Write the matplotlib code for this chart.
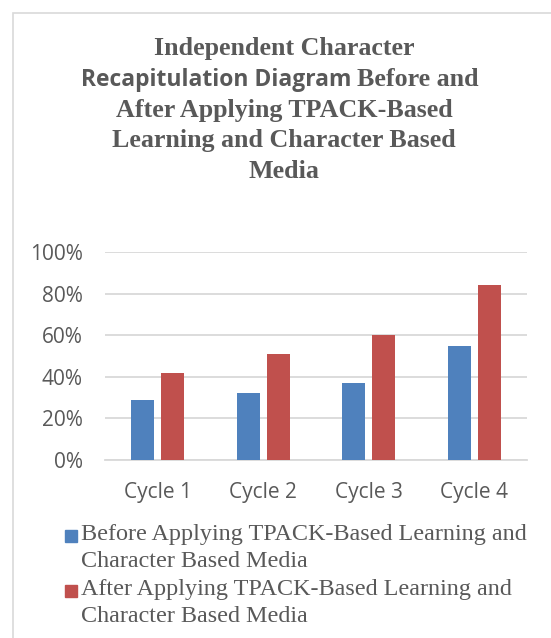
import matplotlib
matplotlib.use("Agg")
import matplotlib.pyplot as plt
import numpy as np
from matplotlib.patches import Rectangle

categories = ["Cycle 1", "Cycle 2", "Cycle 3", "Cycle 4"]
before = [29, 32, 37, 55]
after = [42, 51, 60, 84]
series_labels = [
    "Before Applying TPACK-Based Learning and\nCharacter Based Media",
    "After Applying TPACK-Based Learning and\nCharacter Based Media",
]
yticks = [0, 20, 40, 60, 80, 100]
ytick_labels = ["0%", "20%", "40%", "60%", "80%", "100%"]

BLUE = "#4F81BD"
RED = "#C0504D"
GRAY = "#595959"

W, H = 551, 638
fig = plt.figure(figsize=(W / 100, H / 100), dpi=100)
fig.patch.set_facecolor("white")

def fx(px):
    return px / W

def fy(py):
    return 1 - py / H

# outer chart border (extends past right/bottom edges)
fig.patches.append(Rectangle((fx(13), fy(700)), fx(700), 687 / H,
                             transform=fig.transFigure, fill=False, edgecolor="#D9D9D9", linewidth=1.2))

ax = fig.add_axes([fx(105), fy(460), fx(527) - fx(105), fy(252) - fy(460)])
x = np.arange(len(categories))
bw = 0.218
off = 0.142
ax.bar(x - off, before, width=bw, color=BLUE, zorder=3)
ax.bar(x + off, after, width=bw, color=RED, zorder=3)
ax.set_xlim(-0.5, len(categories) - 0.5)
ax.set_ylim(0, 100)
ax.set_yticks(yticks)
ax.set_yticklabels(ytick_labels, fontfamily="Open Sans", fontsize=15, color=GRAY)
ax.set_xticks(x)
ax.set_xticklabels(categories, fontfamily="Open Sans", fontsize=15, color=GRAY)
ax.tick_params(axis="both", length=0)
ax.tick_params(axis="y", pad=16)
ax.tick_params(axis="x", pad=16)
ax.grid(axis="y", color="#D9D9D9", linewidth=1.3, zorder=0)
for s in ["top", "right", "left"]:
    ax.spines[s].set_visible(False)
ax.spines["bottom"].set_color("#D9D9D9")
ax.spines["bottom"].set_linewidth(1.3)

# title
tcx = fx(284)
serif = "Liberation Serif"
tkw = dict(ha="center", va="center", fontsize=18.7, fontweight="bold", color=GRAY)
fig.text(tcx, fy(48), "Independent Character", family=serif, **tkw)
# line 2: mixed fonts
fig.canvas.draw()
r = fig.canvas.get_renderer()
t1 = fig.text(0, fy(80), "Recapitulation Diagram ", family="Open Sans", ha="left", va="center",
              fontsize=16.5, fontweight="bold", color=GRAY)
t2 = fig.text(0, fy(80), "Before and", family=serif, ha="left", va="center",
              fontsize=18.7, fontweight="bold", color=GRAY)
w1 = t1.get_window_extent(r).width
w2 = t2.get_window_extent(r).width
start = 280 - (w1 + w2) / 2
t1.set_x(fx(start))
t2.set_x(fx(start + w1))
fig.text(tcx, fy(110), "After Applying TPACK-Based", family=serif, **tkw)
fig.text(tcx, fy(140), "Learning and Character Based", family=serif, **tkw)
fig.text(tcx, fy(171), "Media", family=serif, **tkw)

# legend
colors = [BLUE, RED]
line_centers = [535, 590]
for c, lab, yc in zip(colors, series_labels, line_centers):
    fig.patches.append(Rectangle((fx(65), fy(yc + 7)), fx(12), 12 / H,
                                 transform=fig.transFigure, color=c))
    fig.text(fx(81), fy(yc - 11), lab, family=serif, fontsize=17.4, color=GRAY,
             ha="left", va="top", linespacing=1.38)

fig.savefig("out.png", dpi=100)
